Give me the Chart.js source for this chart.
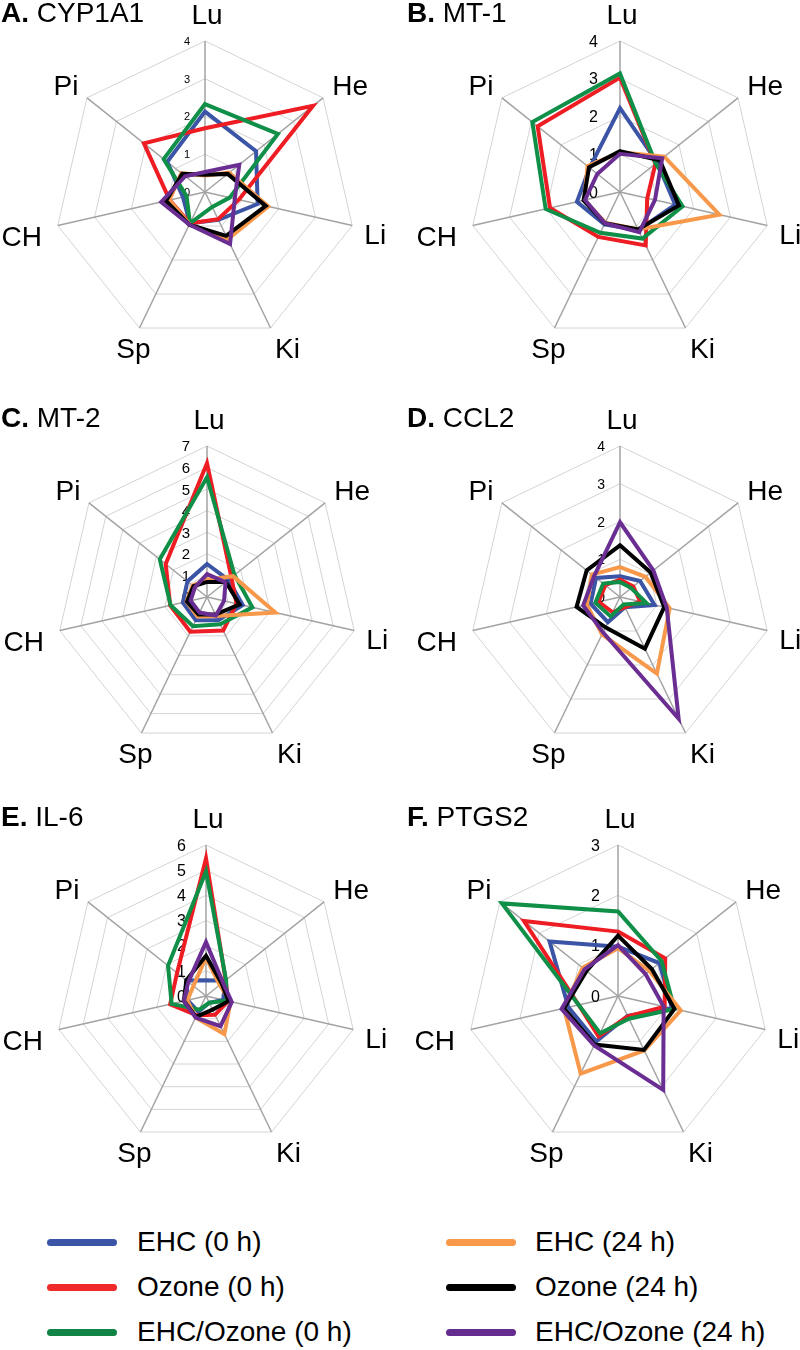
<!DOCTYPE html>
<html><head><meta charset="utf-8">
<script src="https://cdn.jsdelivr.net/npm/chart.js@4.4.1/dist/chart.umd.min.js"></script>
<style>
html,body{margin:0;padding:0;background:#fff;}
#wrap{position:relative;width:800px;height:1350px;overflow:hidden;font-family:'Liberation Sans',Arial,sans-serif;color:#000;}
canvas{position:absolute;}
.title{position:absolute;font-size:28px;line-height:28px;white-space:nowrap;}
.title b{font-weight:bold;}
.leg{position:absolute;height:7px;width:70px;border-radius:4px;}
.legt{position:absolute;font-size:28px;line-height:28px;white-space:nowrap;}
</style></head><body><div id="wrap"></div>
<script>
// ---------- data ----------
const axes = ['Lu', 'He', 'Li', 'Ki', 'Sp', 'CH', 'Pi'];
const seriesNames = ['EHC (0 h)', 'Ozone (0 h)', 'EHC/Ozone (0 h)', 'EHC (24 h)', 'Ozone (24 h)', 'EHC/Ozone (24 h)'];
const panelLetters = ['A.', 'B.', 'C.', 'D.', 'E.', 'F.'];
const panelGenes = ['CYP1A1', 'MT-1', 'MT-2', 'CCL2', 'IL-6', 'PTGS2'];
const panelMax = [4, 4, 7, 4, 6, 3];

// rows: EHC 0h, Ozone 0h, EHC/Ozone 0h, EHC 24h, Ozone 24h, EHC/Ozone 24h
// columns follow axes: Lu, He, Li, Ki, Sp, CH, Pi
const CYP1A1 = [
  [2.13, 1.73, 1.43, 0.82, 0.92, 0.60, 1.28],
  [1.69, 3.66, 0.92, 0.80, 0.92, 0.96, 2.07],
  [2.33, 2.47, 0.67, 0.44, 0.92, 0.50, 1.40],
  [0.44, 0.82, 1.72, 1.39, 0.95, 0.97, 0.80],
  [0.46, 0.77, 1.65, 1.29, 0.96, 1.06, 0.77],
  [0.53, 1.16, 0.81, 1.53, 0.96, 1.19, 0.67]
];
const MT1 = [
  [2.22, 1.26, 1.50, 1.12, 0.95, 1.17, 1.03],
  [3.03, 1.20, 0.74, 1.57, 1.32, 1.90, 2.79],
  [3.14, 1.21, 1.70, 1.37, 1.20, 2.02, 2.97],
  [1.05, 1.50, 2.70, 1.10, 0.90, 0.97, 1.10],
  [1.08, 1.35, 1.60, 1.10, 0.92, 0.99, 1.05],
  [1.01, 1.43, 0.95, 1.18, 0.92, 0.95, 0.77]
];
const MT2 = [
  [1.53, 1.27, 1.70, 1.20, 1.20, 1.15, 1.16],
  [6.20, 1.45, 1.40, 1.73, 1.79, 1.75, 2.45],
  [5.55, 1.63, 2.16, 1.40, 1.50, 1.73, 2.80],
  [0.80, 1.55, 3.25, 0.98, 1.00, 0.97, 0.85],
  [0.70, 1.12, 1.55, 0.90, 0.90, 0.95, 0.80],
  [1.06, 1.10, 0.81, 0.95, 0.80, 0.78, 0.72]
];
const CCL2 = [
  [0.55, 0.68, 0.94, 0.30, 0.74, 0.80, 0.81],
  [0.46, 0.45, 0.55, 0.30, 0.45, 0.58, 0.50],
  [0.40, 0.38, 0.72, 0.22, 0.57, 0.67, 0.57],
  [0.79, 0.86, 1.35, 2.25, 1.10, 0.90, 0.95],
  [1.37, 1.04, 1.20, 1.52, 0.89, 1.18, 1.13],
  [1.98, 1.13, 1.27, 3.58, 1.04, 1.00, 0.88]
];
const IL6 = [
  [0.63, 0.98, 0.70, 0.30, 0.70, 0.75, 0.99],
  [5.47, 1.00, 0.90, 0.83, 0.85, 1.46, 1.47],
  [4.95, 1.02, 0.85, 0.30, 0.60, 1.40, 1.93],
  [1.53, 0.70, 1.00, 1.68, 0.95, 0.76, 0.64],
  [1.60, 0.80, 0.92, 0.60, 0.92, 0.90, 1.00],
  [2.14, 0.86, 1.05, 1.33, 0.95, 0.90, 0.90]
];
const PTGS2 = [
  [0.98, 1.05, 1.10, 0.44, 1.00, 1.01, 1.74],
  [1.28, 1.20, 0.95, 0.45, 0.89, 0.80, 2.39],
  [1.68, 1.11, 1.15, 0.50, 0.82, 0.80, 2.95],
  [0.95, 0.80, 1.28, 1.20, 1.71, 1.10, 0.90],
  [1.20, 0.86, 1.15, 1.19, 1.07, 1.10, 0.80],
  [1.01, 0.70, 0.93, 2.07, 1.09, 1.15, 0.85]
];
const panelData = [CYP1A1, MT1, MT2, CCL2, IL6, PTGS2];

// ---------- styling / layout ----------
const FONT = "'Liberation Sans', Arial, sans-serif";
const seriesColors = ['#3B54A5', '#EE1D23', '#0F8F47', '#F8984A', '#000000', '#6A2E93'];
const legendColors = ['#3B54A5', '#EE2A2A', '#0F8444', '#F8984A', '#000000', '#642C8E'];
const panelCenters = [[205, 192], [620, 192], [207, 597], [620, 597], [206, 996], [618, 996]];
const titleX = [1, 407, 1, 407, 1, 407];
const tickFontSize = [11, 16, 15, 14, 16, 16];
const tickDx = [-15, -22, -17, -15, -20, -18];
// label cap-centre offsets from the outer vertex of each axis
const pointLabelOffset = [[2, -27], [27, -13], [23, 8], [17, 20], [-6, 20], [-36, 10], [-21, -13]];
const LABEL_PX = 28;
const R = 151, PAD = 60, CSIZE = 2 * (R + PAD);

const labelPlugin = {
  id: 'radLabels',
  beforeDatasetsDraw(chart, args, opts) {
    const s = chart.scales.r, ctx = chart.ctx;
    ctx.save();
    ctx.fillStyle = '#000';
    ctx.font = opts.tickSize + 'px ' + FONT;
    ctx.textAlign = 'right';
    ctx.textBaseline = 'alphabetic';
    s.ticks.forEach(t => {
      const d = s.getDistanceFromCenterForValue(t.value);
      ctx.fillText(String(t.value), s.xCenter + opts.tickDx, s.yCenter - d + opts.tickSize * 0.358);
    });
    ctx.restore();
  },
  afterDraw(chart) {
    const s = chart.scales.r, ctx = chart.ctx;
    ctx.save();
    ctx.fillStyle = '#000';
    ctx.font = LABEL_PX + 'px ' + FONT;
    ctx.textAlign = 'center';
    ctx.textBaseline = 'alphabetic';
    chart.data.labels.forEach((lab, i) => {
      const p = s.getPointPosition(i, s.drawingArea);
      const o = pointLabelOffset[i];
      ctx.fillText(lab, p.x + o[0], p.y + o[1] + LABEL_PX * 0.358);
    });
    ctx.restore();
  }
};

const wrap = document.getElementById('wrap');

panelData.forEach((rows, p) => {
  const [cx, cy] = panelCenters[p];
  const cv = document.createElement('canvas');
  cv.width = CSIZE; cv.height = CSIZE;
  cv.style.left = (cx - R - PAD) + 'px';
  cv.style.top = (cy - R - PAD) + 'px';
  cv.style.width = CSIZE + 'px'; cv.style.height = CSIZE + 'px';
  wrap.appendChild(cv);

  const t = document.createElement('div');
  t.className = 'title';
  t.style.left = titleX[p] + 'px';
  t.style.top = (cy - 169 - 23.7) + 'px';
  t.innerHTML = '<b>' + panelLetters[p] + '</b> ' + panelGenes[p];
  wrap.appendChild(t);

  new Chart(cv, {
    type: 'radar',
    data: {
      labels: axes,
      datasets: rows.map((vals, i) => ({
        label: seriesNames[i],
        data: vals,
        borderColor: seriesColors[i],
        backgroundColor: 'transparent',
        borderWidth: 4,
        pointRadius: 0,
        pointHoverRadius: 0,
        fill: false,
        tension: 0,
        borderJoinStyle: 'miter',
        order: -i
      }))
    },
    options: {
      responsive: false,
      animation: false,
      devicePixelRatio: 1,
      layout: { padding: PAD },
      plugins: {
        legend: { display: false },
        tooltip: { enabled: false },
        radLabels: { tickSize: tickFontSize[p], tickDx: tickDx[p] }
      },
      scales: {
        r: {
          min: 0,
          max: panelMax[p],
          ticks: { display: false, stepSize: 1 },
          pointLabels: { display: false },
          grid: { color: '#D4D4D4', lineWidth: 1, circular: false },
          angleLines: { color: '#A3A3A3', lineWidth: 1.5 }
        }
      }
    },
    plugins: [labelPlugin]
  });
});

// legend
const legRows = [1242, 1287, 1332];
seriesNames.forEach((name, i) => {
  const col = i < 3 ? 0 : 1;
  const row = i % 3;
  const y = legRows[row];
  const lx = col === 0 ? 47 : 446;
  const tx = col === 0 ? 137 : 535;
  const l = document.createElement('div');
  l.className = 'leg';
  l.style.left = lx + 'px';
  l.style.top = (y - 3.5) + 'px';
  l.style.background = legendColors[i];
  wrap.appendChild(l);
  const tt = document.createElement('div');
  tt.className = 'legt';
  tt.style.left = tx + 'px';
  tt.style.top = (y - 13.7) + 'px';
  tt.textContent = name;
  wrap.appendChild(tt);
});
</script>
</body></html>
